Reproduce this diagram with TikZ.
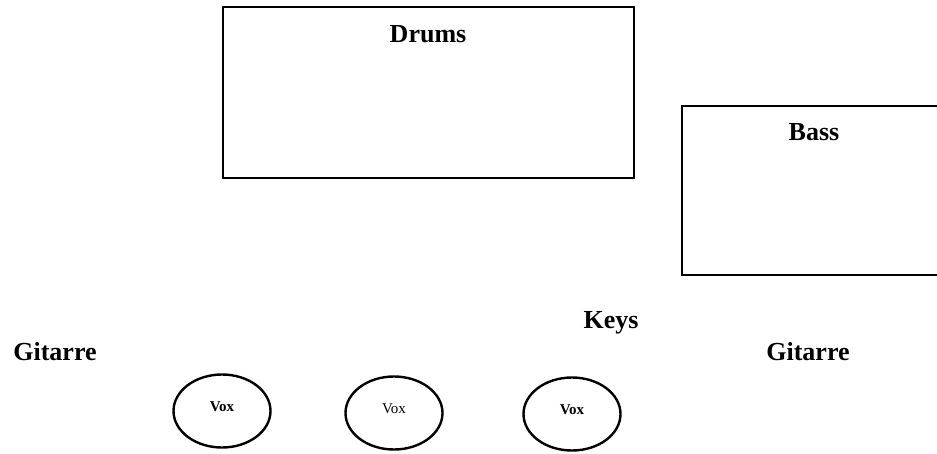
\documentclass[tikz,border=0pt]{standalone}
\usepackage{fontspec}
\setmainfont{Liberation Serif}
\usetikzlibrary{shapes,positioning,calc}

\tikzset{
    stage/.style={draw, line width=2.4pt, rectangle, anchor=north west, inner sep=0pt},
    part/.style={inner sep=0pt, font=\fontsize{26}{26}\selectfont\bfseries},
    singer/.style={draw, line width=2.4pt, ellipse, minimum width=97pt, minimum height=73pt, inner sep=0pt},
    voxtext/.style={font=\fontsize{15}{15}\selectfont}
}

\begin{document}
\begin{tikzpicture}[x=1pt, y=-1pt]
    \useasboundingbox (0,0) rectangle (937,453);

    % boxes for drums and bass
    \node[stage, minimum width=411pt, minimum height=171pt] (drums) at (222,6) {};
    \node[stage, minimum width=266pt, minimum height=169pt] (bass) at (681,105) {};
    \node[part, anchor=base] (drumslabel) at (428,42) {Drums};
    \node[part, anchor=base] (basslabel) at (814,140) {Bass};

    % other players
    \node[part, anchor=base] (keys) at (611,328) {Keys};
    \node[part, anchor=base] (gitleft) at (55,360) {Gitarre};
    \node[part, anchor=base] (gitright) at (808,360) {Gitarre};

    % vocals
    \node[singer] (vox1) at (222,411) {};
    \node[singer] (vox2) at (394,413) {};
    \node[singer] (vox3) at (572,414) {};
    \node[voxtext, font=\fontsize{15}{15}\selectfont\bfseries] at ($(vox1)+(0,-4)$) {Vox};
    \node[voxtext] at ($(vox2)+(0,-4)$) {Vox};
    \node[voxtext, font=\fontsize{15}{15}\selectfont\bfseries] at ($(vox3)+(0,-4)$) {Vox};
\end{tikzpicture}
\end{document}
